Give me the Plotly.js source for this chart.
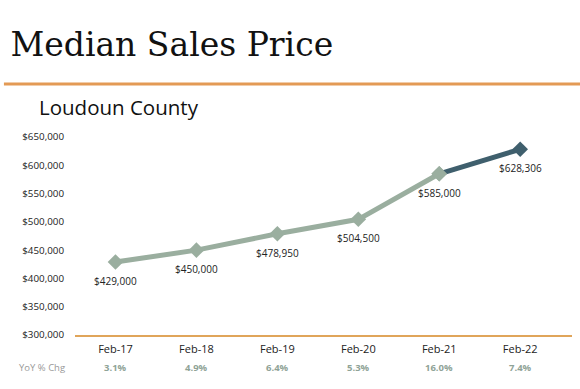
<!DOCTYPE html>
<html><head><meta charset="utf-8">
<script src="https://cdn.plot.ly/plotly-3.0.1.min.js"></script>
<style>html,body{margin:0;padding:0;background:#fff;}#chart{width:580px;height:389px;}</style>
</head><body><div id="chart"></div>
<script>
const categories = ["Feb-17","Feb-18","Feb-19","Feb-20","Feb-21","Feb-22"];
const prices = [429000, 450000, 478950, 504500, 585000, 628306];
const priceLabels = ["$429,000","$450,000","$478,950","$504,500","$585,000","$628,306"];
const yoy = ["3.1%","4.9%","6.4%","5.3%","16.0%","7.4%"];
const tickVals = [300000,350000,400000,450000,500000,550000,600000,650000];
const tickText = ["$300,000","$350,000","$400,000","$450,000","$500,000","$550,000","$600,000","$650,000"];

const n = categories.length;
const traces = [
  {x: categories.slice(0, n-1), y: prices.slice(0, n-1), type:"scatter", mode:"lines+markers",
   line:{color:"#9aae9f", width:5}, marker:{symbol:"diamond", size:12, color:"#9aae9f"}, hoverinfo:"skip"},
  {x: categories.slice(n-2), y: prices.slice(n-2), type:"scatter", mode:"lines",
   line:{color:"#3f5f6d", width:5}, hoverinfo:"skip"},
  {x: categories.slice(n-2, n-1), y: prices.slice(n-2, n-1), type:"scatter", mode:"markers",
   marker:{symbol:"diamond", size:12, color:"#9aae9f"}, hoverinfo:"skip"},
  {x: categories.slice(n-1), y: prices.slice(n-1), type:"scatter", mode:"markers",
   marker:{symbol:"diamond", size:12, color:"#3f5f6d"}, hoverinfo:"skip"}
];

const annotations = [];
categories.forEach((c,i)=>{
  annotations.push({x:c, y:prices[i], xref:"x", yref:"y", text:priceLabels[i], showarrow:false,
    yshift:-19, font:{family:"Open Sans", size:10, color:"#222"}});
  annotations.push({x:c, y:-0.165, xref:"x", yref:"paper", yanchor:"middle", text:"<b>"+yoy[i]+"</b>", showarrow:false,
    font:{family:"Open Sans", size:9.5, color:"#8fa397"}});
});
annotations.push({x:-0.016, y:-0.165, xref:"paper", yref:"paper", xanchor:"right", yanchor:"middle", text:"YoY % Chg", showarrow:false,
  font:{family:"Open Sans", size:9.5, color:"#999"}});
annotations.push({xref:"paper", yref:"paper", x:-0.077, y:1.15, xanchor:"left", yanchor:"middle",
  text:"Loudoun County", showarrow:false, font:{family:"Open Sans", size:20.5, color:"#111"}});

const layout = {
  width:580, height:389,
  margin:{l:75, r:8, t:137, b:54},
  paper_bgcolor:"#fff", plot_bgcolor:"#fff",
  showlegend:false,
  title:{text:"Median Sales Price", x:0.018, xanchor:"left", y:0.885, yanchor:"middle",
    font:{family:"DejaVu Serif", size:33, color:"#111"}},
  xaxis:{type:"category", range:[-0.5, 5.64], showgrid:false, zeroline:false,
    showline:true, linecolor:"#e0a55a", linewidth:2, ticks:"", ticklabelstandoff:3,
    tickfont:{family:"Open Sans", size:11, color:"#222"}},
  yaxis:{range:[300000, 650000], tickvals:tickVals, ticktext:tickText, showgrid:false, zeroline:false,
    showline:false, ticks:"", ticklabelstandoff:10,
    tickfont:{family:"Open Sans", size:9.8, color:"#222"}},
  shapes:[{type:"line", xref:"paper", yref:"paper", x0:-0.143, x1:1.02, y0:1.268, y1:1.268,
    line:{color:"#e39a55", width:3}}],
  annotations: annotations
};
Plotly.newPlot("chart", traces, layout, {displayModeBar:false, staticPlot:true});
</script></body></html>
